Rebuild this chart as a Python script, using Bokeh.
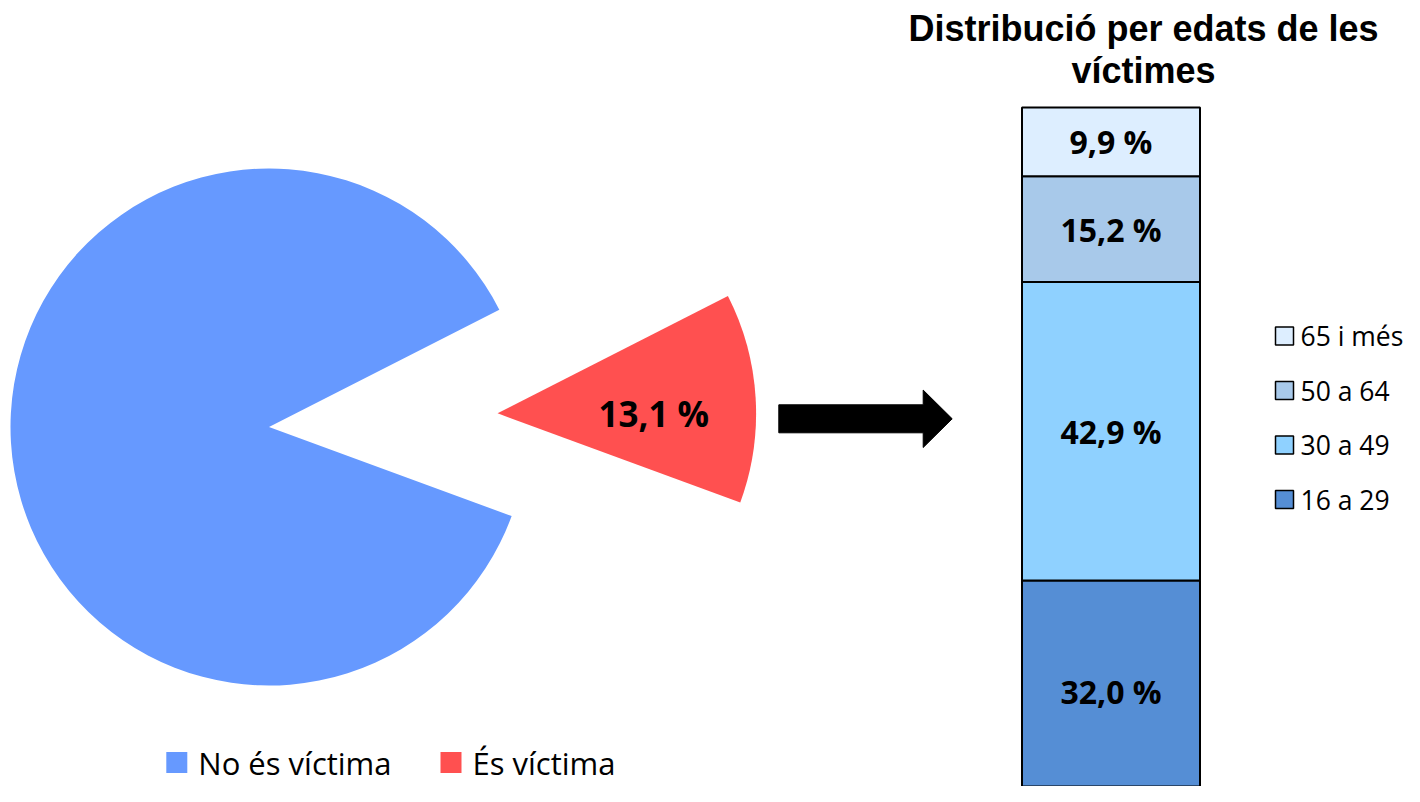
import math
from bokeh.plotting import figure
from bokeh.models import Range1d, ColumnDataSource
from bokeh.core.properties import value
from bokeh.embed import file_html
from bokeh.resources import INLINE

# ---------------- data ----------------
pie_labels = ["No és víctima", "És víctima"]
pie_values = [86.9, 13.1]
pie_colors = ["#6699FF", "#FF5050"]

age_groups = ["16 a 29", "30 a 49", "50 a 64", "65 i més"]
age_values = [32.0, 42.9, 15.2, 9.9]
age_colors = ["#558ED5", "#8FD1FF", "#A8C9EA", "#DDEEFF"]

title_text = "Distribució per edats de les\nvíctimes"


def pct_label(v):
    return f"{v:.1f} %".replace(".", ",")


# ---------------- layout constants ----------------
W, H = 1404, 786          # canvas size (fits the 1420x802 window with 8px margin)
TOP = 802                 # drawing space: y = TOP - pixel row
PIE_CX, PIE_CY, PIE_R = 268.5, 375.5, 258.5
PIE_ROT = 27.0            # degrees where first slice starts (anticlockwise)
EXPLODE = 229.0
LABEL_FRAC = 0.605

BAR_X, BAR_W = 1110.5, 178.0

FONT = "Open Sans"

p = figure(width=W, height=H, x_range=Range1d(0, W), y_range=Range1d(TOP - H, TOP),
           x_axis_type=None, y_axis_type=None, toolbar_location=None,
           output_backend="svg", min_border=0, outline_line_color=None)
p.grid.visible = False
p.background_fill_color = "white"
p.border_fill_color = "white"

# ---------------- pie ----------------
total = sum(pie_values)
starts, ends = [], []
acc = 0.0
for v in pie_values:
    starts.append(math.radians(PIE_ROT + 360.0 * acc / total))
    acc += v
    ends.append(math.radians(PIE_ROT + 360.0 * acc / total))

xs, ys = [], []
for i in range(len(pie_values)):
    if i == 0:
        xs.append(PIE_CX)
        ys.append(PIE_CY)
    else:
        mid = (starts[i] + ends[i]) / 2
        xs.append(PIE_CX + EXPLODE * math.cos(mid))
        ys.append(PIE_CY + EXPLODE * math.sin(mid))

pie_src = ColumnDataSource(dict(x=xs, y=ys, start=starts, end=ends, color=pie_colors))
p.wedge(x="x", y="y", radius=PIE_R, start_angle="start", end_angle="end",
        fill_color="color", line_color=None, source=pie_src)

# label of exploded slice
mid = (starts[1] + ends[1]) / 2
p.text(x=[xs[1] + LABEL_FRAC * PIE_R * math.cos(mid)],
       y=[ys[1] + LABEL_FRAC * PIE_R * math.sin(mid)],
       text=[pct_label(pie_values[1])], text_align="center", text_baseline="middle",
       y_offset=9, text_font=value(FONT), text_font_style="bold",
       text_font_size="35px", text_color="black")

# pie legend (bottom)
leg_x = [176.3, 450.5]
leg_y = [40.0, 40.0]
p.scatter(x=leg_x, y=leg_y, marker="square", size=21, fill_color=pie_colors, line_color=None)
p.text(x=[x + 21.5 for x in leg_x], y=leg_y, text=pie_labels, text_align="left",
       text_baseline="middle", text_font=value(FONT), text_font_size="31px", text_color="black")

# ---------------- arrow ----------------
ax0, ax1, ay = 778.3, 951.7, 383.7
shaft_h, head_h, head_len = 14.0, 28.7, 29.0
p.patch(x=[ax0, ax1 - head_len, ax1 - head_len, ax1, ax1 - head_len, ax1 - head_len, ax0],
        y=[ay + shaft_h, ay + shaft_h, ay + head_h, ay, ay - head_h, ay - shaft_h, ay - shaft_h],
        fill_color="black", line_color="black", line_width=1)

# ---------------- stacked bar ----------------
p.extra_y_ranges = {"pct": Range1d(2.386, 115.38)}
bottoms, tops = [], []
acc = 0.0
for v in age_values:
    bottoms.append(acc)
    acc += v
    tops.append(acc)
bar_src = ColumnDataSource(dict(x=[BAR_X] * len(age_values), bottom=bottoms, top=tops,
                                color=age_colors,
                                mid=[(b + t) / 2 for b, t in zip(bottoms, tops)],
                                label=[pct_label(v) for v in age_values]))
p.vbar(x="x", width=BAR_W, bottom="bottom", top="top", fill_color="color",
       line_color="black", line_width=2, source=bar_src, y_range_name="pct")
p.text(x="x", y="mid", text="label", source=bar_src, y_range_name="pct",
       text_align="center", text_baseline="middle", text_font=value(FONT),
       text_font_style="bold", text_font_size="32px", text_color="black")

# bar legend (right)
lg_x = 1284.0
lg_y = [466.5 - 54.5 * i for i in range(len(age_groups))]
rev_groups = age_groups[::-1]
rev_colors = age_colors[::-1]
p.scatter(x=[lg_x] * len(rev_groups), y=lg_y, marker="square", size=18,
          fill_color=rev_colors, line_color="black", line_width=1.5)
p.text(x=[lg_x + 16] * len(rev_groups), y=lg_y, text=rev_groups, text_align="left",
       text_baseline="middle", text_font=value(FONT), text_font_size="26.5px", text_color="black")

# ---------------- title ----------------
p.text(x=[1143.0], y=[794.3], text=[title_text], text_align="center", text_baseline="top",
       text_font=value("Liberation Sans"), text_font_style="bold", text_font_size="36px",
       text_line_height=1.02, text_color="black")

open("out.html", "w").write(file_html(p, INLINE))
